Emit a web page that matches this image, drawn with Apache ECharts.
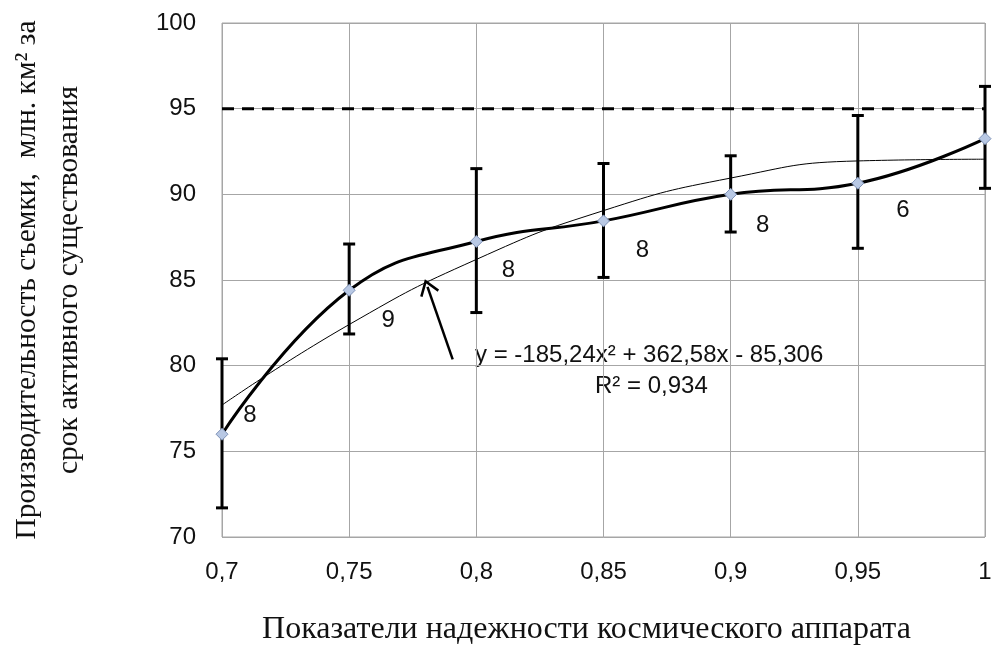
<!DOCTYPE html>
<html>
<head>
<meta charset="utf-8">
<script src="https://cdn.jsdelivr.net/npm/echarts@6/dist/echarts.min.js"></script>
<style>
html,body{margin:0;padding:0;background:#fff;}
#chart{width:993px;height:646px;}
</style>
</head>
<body>
<div id="chart"></div>
<script>
// Reliability indicator (x) values
const reliability = [0.7, 0.75, 0.8, 0.85, 0.9, 0.95, 1];
// Mean productivity values (mln km2 over active lifetime)
const productivity = [76.0, 84.4, 87.25, 88.45, 90.0, 90.65, 93.25];
// Error bar bounds
const errLower = [71.7, 81.85, 83.1, 85.15, 87.8, 86.85, 90.35];
const errUpper = [80.4, 87.1, 91.5, 91.8, 92.25, 94.6, 96.3];
// Sample counts shown next to points
const counts = ['8', '9', '8', '8', '8', '6', ''];
// Polynomial trend line values read at the x ticks
const trendValues = [77.7, 82.4, 86.2, 89.05, 90.95, 91.95, 92.05];
// Reference level (dashed line)
const refLevel = 95;
// Tick labels
const xTicks = [0.7, 0.75, 0.8, 0.85, 0.9, 0.95, 1];
const yTicks = [70, 75, 80, 85, 90, 95, 100];
// Annotation arrow (data coordinates: tail -> tip)
const arrowTail = [0.7907, 80.37];
const arrowTip = [0.7808, 84.6];
const equationText = 'y = -185,24x² + 362,58x - 85,306';
const r2Text = 'R² = 0,934';

const labelOffsets = [[28,-19],[39,30],[32,29],[39,29],[32,31],[45,27],[0,0]];
const numFont = 'Liberation Sans';
const serif = 'Liberation Serif';
const fmt = v => String(v).replace('.', ',');

const chart = echarts.init(document.getElementById('chart'));
chart.setOption({
  animation: false,
  backgroundColor: '#ffffff',
  grid: {left: 222, right: 8, top: 23, bottom: 109, outerBoundsMode: 'none', containLabel: false,
         show: true, borderColor: '#a6a6a6', borderWidth: 1},
  xAxis: {
    type: 'value', min: 0.7, max: 1, interval: 0.05,
    axisLine: {show: false}, axisTick: {show: false},
    splitLine: {show: true, lineStyle: {color: '#a6a6a6', width: 1}},
    axisLabel: {
      color: '#111', fontFamily: numFont, fontSize: 24, margin: 23,
      formatter: v => { const t = xTicks.find(k => Math.abs(k - v) < 1e-6); return t === undefined ? '' : fmt(t); }
    },
    name: 'Показатели надежности космического аппарата',
    nameLocation: 'middle', nameGap: 77,
    nameTextStyle: {fontFamily: serif, fontSize: 32, color: '#111', padding: [0, 34, 0, 0]}
  },
  yAxis: {
    type: 'value', min: 70, max: 100, interval: 5,
    axisLine: {show: false}, axisTick: {show: false},
    splitLine: {show: true, lineStyle: {color: '#a6a6a6', width: 1}},
    axisLabel: {
      color: '#111', fontFamily: numFont, fontSize: 24, margin: 26,
      formatter: v => yTicks.includes(v) ? String(v) : ''
    },
    name: 'Производительность съемки,  млн. км² за\nсрок активного существования',
    nameLocation: 'middle', nameGap: 132, nameRotate: 90,
    nameTextStyle: {fontFamily: serif, fontSize: 29.5, color: '#111', lineHeight: 42, align: 'center'}
  },
  series: [
    {
      name: 'ref', type: 'line', silent: true, symbol: 'none',
      data: [[0.7, refLevel], [1, refLevel]],
      lineStyle: {color: '#000', width: 3, type: [12, 8]},
      z: 3
    },
    {
      name: 'trend', type: 'line', silent: true, symbol: 'none', smooth: 0.5,
      data: reliability.map((x, i) => [x, trendValues[i]]),
      lineStyle: {color: '#000', width: 1},
      z: 3,
      markLine: {
        silent: true,
        symbol: ['none', 'path://M10,0 L20,14 L18,15.6 L10,4.3 L2,15.6 L0,14 Z'],
        symbolSize: [20, 16],
        label: {show: false},
        lineStyle: {color: '#000', width: 2.5, type: 'solid'},
        data: [[{coord: arrowTail}, {coord: arrowTip}]]
      }
    },
    {
      name: 'errors', type: 'custom', silent: true,
      data: reliability.map((x, i) => [x, errLower[i], errUpper[i]]),
      renderItem: (params, api) => {
        const lo = api.coord([api.value(0), api.value(1)]);
        const hi = api.coord([api.value(0), api.value(2)]);
        const hw = 6;
        const st = {stroke: '#000', lineWidth: 3};
        return {type: 'group', children: [
          {type: 'line', shape: {x1: lo[0], y1: lo[1], x2: hi[0], y2: hi[1]}, style: st},
          {type: 'line', shape: {x1: lo[0] - hw, y1: lo[1], x2: lo[0] + hw, y2: lo[1]}, style: st},
          {type: 'line', shape: {x1: hi[0] - hw, y1: hi[1], x2: hi[0] + hw, y2: hi[1]}, style: st}
        ]};
      },
      z: 4
    },
    {
      name: 'main', type: 'line', smooth: 0.45,
      data: reliability.map((x, i) => ({
        value: [x, productivity[i]],
        label: {show: counts[i] !== '', formatter: counts[i], offset: labelOffsets[i]}
      })),
      symbol: 'diamond', symbolSize: 12,
      itemStyle: {color: '#b8c8e4', borderColor: '#7f93b8', borderWidth: 1},
      lineStyle: {color: '#000', width: 3},
      label: {position: 'inside', fontFamily: numFont, fontSize: 24, color: '#111'},
      z: 5
    }
  ],
  graphic: [
    {type: 'text', left: 475, top: 343, style: {text: equationText, font: '24px "Liberation Sans"', fill: '#111'}},
    {type: 'text', left: 595, top: 374, style: {text: r2Text, font: '24px "Liberation Sans"', fill: '#111'}}
  ]
});
</script>
</body>
</html>
